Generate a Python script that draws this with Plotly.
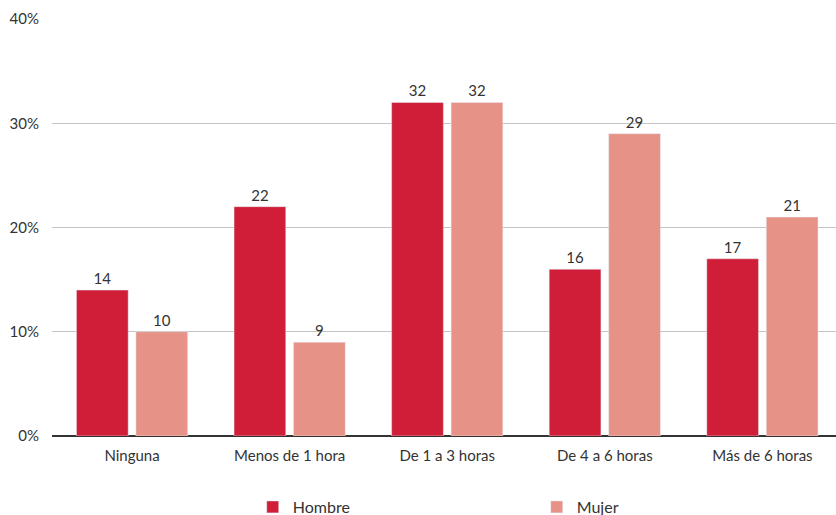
import plotly.graph_objects as go

categories = ["Ninguna", "Menos de 1 hora", "De 1 a 3 horas", "De 4 a 6 horas", "Más de 6 horas"]
hombre = [14, 22, 32, 16, 17]
mujer = [10, 9, 32, 29, 21]
y_ticks = [0, 10, 20, 30, 40]
y_tick_labels = ["0%", "10%", "20%", "30%", "40%"]

font_family = "Lato, 'Noto Sans', sans-serif"
text_color = "#333333"

fig = go.Figure()
fig.add_trace(go.Bar(
    name="Hombre", x=categories, y=hombre, marker_color="#D01E38",
    text=hombre, textposition="outside", cliponaxis=False,
    textfont=dict(size=15, color=text_color, family=font_family),
))
fig.add_trace(go.Bar(
    name="Mujer", x=categories, y=mujer, marker_color="#E69286",
    text=mujer, textposition="outside", cliponaxis=False,
    textfont=dict(size=15, color=text_color, family=font_family),
))

fig.update_layout(
    width=836, height=515,
    margin=dict(l=52, r=0, t=19, b=79),
    paper_bgcolor="white", plot_bgcolor="white",
    barmode="group", bargap=0.245, bargroupgap=0.13,
    font=dict(family=font_family, size=15, color=text_color),
    showlegend=True,
    legend=dict(
        orientation="h", xref="container", x=0.3023, xanchor="left",
        yref="container", y=0.0485, yanchor="top",
        entrywidth=239, entrywidthmode="pixels",
        font=dict(size=16, color=text_color, family=font_family),
        traceorder="normal",
    ),
    xaxis=dict(
        range=[-0.508, 4.467],
        showgrid=False, ticks="", showline=False, automargin=False,
        tickfont=dict(size=15, color=text_color),
        ticklabelstandoff=9,
    ),
    yaxis=dict(
        range=[0, 40], tickvals=y_ticks, ticktext=y_tick_labels,
        showgrid=True, gridcolor="#C4C4C4", gridwidth=1,
        zeroline=True, zerolinecolor="#333333", zerolinewidth=2,
        showline=False, ticks="", automargin=False,
        tickfont=dict(size=15, color=text_color),
        ticklabelstandoff=12,
    ),
)

fig.write_html(
    "out.html",
    config={"displayModeBar": False},
    post_script="document.body.style.margin='0';document.body.style.overflow='hidden';",
)
